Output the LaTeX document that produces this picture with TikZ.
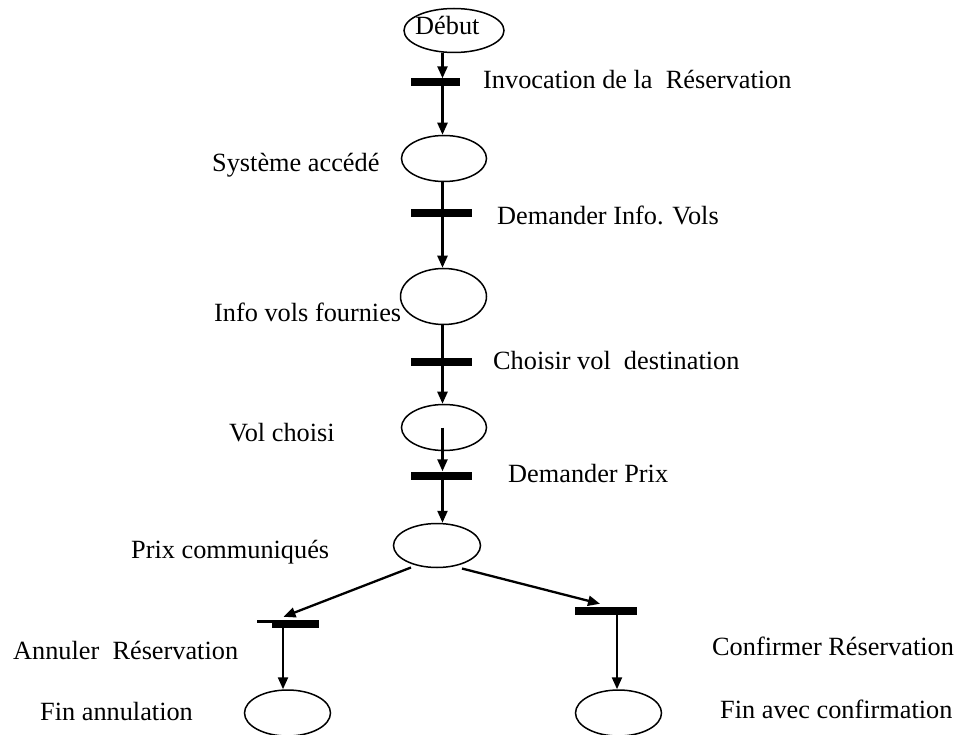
\documentclass[tikz,border=0pt]{standalone}
\usepackage{fontspec}
\setmainfont{Liberation Serif}
\usetikzlibrary{arrows.meta,shapes.geometric}
\begin{document}
\begin{tikzpicture}[x=1pt,y=-1pt,
  place/.style={draw,ellipse,line width=1.5pt,inner sep=0pt},
  trans/.style={fill=black,rectangle,inner sep=0pt,minimum height=8pt},
  arc/.style={line width=2.3pt,-{Triangle[length=12pt,width=10pt]}},
  arcline/.style={line width=2.3pt},
  lbl/.style={anchor=base west,inner sep=0pt,font=\fontsize{26.3}{30}\selectfont}]
\useasboundingbox (0,0) rectangle (959,735);

% vertical guide lines for the columns of arcs
\coordinate (col) at (442.5,0);
\coordinate (lcol) at (283,0);
\coordinate (rcol) at (617,0);

% places
\node[place,minimum width=100pt,minimum height=44pt] (debut) at (454,30.5) {};
\node[place,minimum width=85pt,minimum height=46pt] (sys) at (444,158.5) {};
\node[place,minimum width=86pt,minimum height=56pt] (info) at (443.5,296.5) {};
\node[place,minimum width=85pt,minimum height=46pt] (vol) at (444,427.5) {};
\node[place,minimum width=87pt,minimum height=44pt] (prix) at (437,545.5) {};
\node[place,minimum width=86pt,minimum height=46pt] (finann) at (287.5,713) {};
\node[place,minimum width=86pt,minimum height=46pt] (finconf) at (618.5,713) {};

% transitions
\node[trans,minimum width=49pt] (t1) at (435.5,82.5) {};
\node[trans,minimum width=61pt] (t2) at (441.5,213.5) {};
\node[trans,minimum width=61pt] (t3) at (441.5,362) {};
\node[trans,minimum width=61pt] (t4) at (441.5,475.5) {};
\node[trans,minimum width=47pt] (t5) at (295.5,624) {};
\node[trans,minimum width=62pt] (t6) at (606,611) {};
\draw[line width=2.5pt] ([shift={(0,-2.5)}]t5.west) -- ++(-15,0);

% arcs
\draw[arc] (debut.south -| col) -- (t1.north -| col);
\draw[arc] (t1 -| col) -- (sys.north -| col);
\draw[arcline] (sys.south -| col) -- (t2 -| col);
\draw[arc] (t2 -| col) -- (info.north -| col);
\draw[arcline] (info.south -| col) -- (t3 -| col);
\draw[arc] (t3 -| col) -- (vol.north -| col);
\draw[arc] (vol -| col) -- (t4.north -| col);
\draw[arc] (t4 -| col) -- (prix.north -| col);
\draw[arc] ([shift={(-26,22)}]prix.center) -- ([shift={(-12,-3)}]t5.north);
\draw[arc] ([shift={(25,23)}]prix.center) -- ([shift={(-6,-3)}]t6.north);
\draw[arc] (t5.south -| lcol) -- (finann.north -| lcol);
\draw[arc] (t6.south -| rcol) -- (finconf.north -| rcol);

% labels
\node[lbl] (ldebut) at (415,35) {Début};
\node[lbl] (l1) at (483,89) {Invocation de la~ Réservation};
\node[lbl] (lsys) at (212,172) {Système accédé};
\node[lbl] (l2) at (497,225) {Demander Info. Vols};
\node[lbl] (linfo) at (214,322) {Info vols fournies};
\node[lbl] (l3) at (493,370) {Choisir vol~ destination};
\node[lbl] (lvol) at (229,441) {Vol choisi};
\node[lbl] (l4) at (508,482) {Demander Prix};
\node[lbl] (lprix) at (131,558) {Prix communiqués};
\node[lbl] (l5) at (13,659) {Annuler~ Réservation};
\node[lbl] (l6) at (712,655) {Confirmer Réservation};
\node[lbl] (lfinann) at (40,720) {Fin annulation};
\node[lbl] (lfinconf) at (720,718) {Fin avec confirmation};
\end{tikzpicture}
\end{document}
